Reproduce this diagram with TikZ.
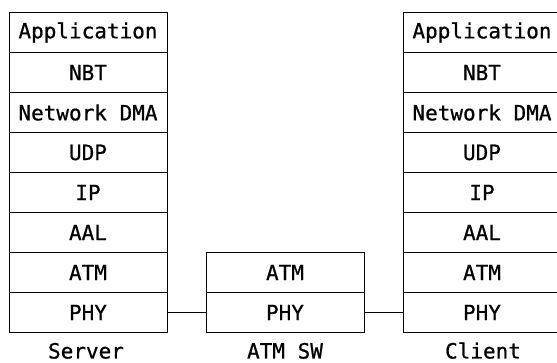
\documentclass[tikz,border=0pt]{standalone}
\usepackage{fontspec}
\setmonofont[FakeBold=0.7]{DejaVu Sans Mono}
\begin{document}
\begin{tikzpicture}[x=1pt,y=-1pt,
  cell/.style={draw=black,line width=0.9pt,minimum width=158pt,minimum height=40pt,inner sep=0pt,
    font=\ttfamily\fontsize{21}{21}\selectfont},
  lbl/.style={font=\ttfamily\fontsize{21}{21}\selectfont,inner sep=0pt,anchor=base},
  link/.style={draw=black,line width=0.9pt}]
\useasboundingbox (0,0) rectangle (557,363);
\clip (0,0) rectangle (557,363);
\fill[white] (0,0) rectangle (557,363);
% Server stack
\node[cell] (sapp) at (88,32.5) {Application};
\node[cell] (snbt) at (88,72.5) {NBT};
\node[cell] (sdma) at (88,112.5) {Network DMA};
\node[cell] (sudp) at (88,152.5) {UDP};
\node[cell] (sip)  at (88,192.5) {IP};
\node[cell] (saal) at (88,232.5) {AAL};
\node[cell] (satm) at (88,272.5) {ATM};
\node[cell] (sphy) at (88,312.5) {PHY};
% ATM switch
\node[cell] (watm) at (285,272.5) {ATM};
\node[cell] (wphy) at (285,312.5) {PHY};
% Client stack
\node[cell] (capp) at (482,32.5) {Application};
\node[cell] (cnbt) at (482,72.5) {NBT};
\node[cell] (cdma) at (482,112.5) {Network DMA};
\node[cell] (cudp) at (482,152.5) {UDP};
\node[cell] (cip)  at (482,192.5) {IP};
\node[cell] (caal) at (482,232.5) {AAL};
\node[cell] (catm) at (482,272.5) {ATM};
\node[cell] (cphy) at (482,312.5) {PHY};
% connectors
\draw[link] (sphy.east) -- (wphy.west);
\draw[link] (wphy.east) -- (cphy.west);
% labels
\node[lbl] (lserver) at (86,358.5) {Server};
\node[lbl] (lsw) at (285,358.5) {ATM SW};
\node[lbl] (lclient) at (483,358.5) {Client};
\end{tikzpicture}
\end{document}
